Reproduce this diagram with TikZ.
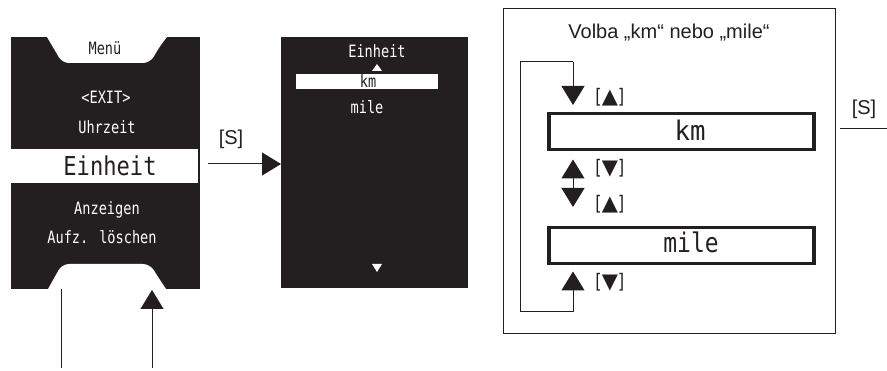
\documentclass[tikz,border=0pt]{standalone}
\usepackage{fontspec}
\setmainfont{Liberation Sans}
\newfontfamily\lcd[FakeStretch=0.8]{DejaVu Sans Mono}
\newfontfamily\lcdbig[FakeStretch=0.85]{DejaVu Sans Mono}
\newfontfamily\lcdkm[FakeStretch=0.95]{DejaVu Sans Mono}
\newfontfamily\lcdw{DejaVu Sans Mono}
\newfontfamily\sym{DejaVu Sans}
\usetikzlibrary{arrows.meta}
\definecolor{scr}{HTML}{231F20}
\tikzset{
  screen/.style={fill=scr, draw=none, anchor=north west, inner sep=0pt},
  wtxt/.style={text=white, inner sep=0pt, font=\lcd\fontsize{17}{17}\selectfont},
  conn/.style={line width=1pt, draw=scr},
  arr/.style={conn, -{Triangle[length=19pt, width=23pt]}},
  lbl/.style={inner sep=0pt, font=\fontsize{20}{20}\selectfont, text=scr},
  selbox/.style={draw=scr, line width=3.5pt, fill=white, inner sep=0pt, anchor=north west},
  keylbl/.style={inner sep=0pt, anchor=west, text=scr, font=\lcd\fontsize{20}{20}\selectfont},
}
\newcommand{\upt}{\kern-1pt{\sym\fontsize{21}{21}\selectfont▲}\kern-1pt}
\newcommand{\dnt}{\kern-1pt{\sym\fontsize{21}{21}\selectfont▼}\kern-1pt}
\begin{document}
\begin{tikzpicture}[x=1pt,y=-1pt]
\useasboundingbox (0,0) rectangle (887,371);
% ---------- left screen ----------
\node[screen, minimum width=189pt, minimum height=252pt] (menu) at (11,37) {};
\fill[white] (47,37) -- (57,54) [rounded corners=7pt] -- (62,63) -- (150,63) -- (160,46) [sharp corners] -- (167,37) -- cycle;
\node[inner sep=0pt, text=scr, font=\lcd\fontsize{17}{17}\selectfont] (menut) at (105,48) {Menü};
\node[wtxt] (exit) at (106,97) {<EXIT>};
\node[wtxt] (uhr) at (107,127) {Uhrzeit};
\fill[white] (11,149) rectangle (198,183);
\node[inner sep=0pt, text=scr, font=\lcdbig\fontsize{26}{26}\selectfont] (einh) at (110,166) {Einheit};
\node[wtxt] (anz) at (107,210) {Anzeigen};
\node[wtxt] (aufz) at (102,237) {Aufz. löschen};
\fill[white] (48,289) -- (57,273) [rounded corners=7pt] -- (62,264) -- (150,264) -- (158,277) [sharp corners] -- (166,289) -- cycle;
\coordinate (la) at (61,289);
\coordinate (lb) at (61,368);
\coordinate (ra) at (152,290);
\coordinate (rb) at (152,368);
\draw[conn] (la) -- (lb);
\draw[arr] (rb) -- (ra);
% ---------- [S] arrow ----------
\node[screen, minimum width=187pt, minimum height=251pt] (unit) at (281,37) {};
\coordinate (s0) at (208,164);
\draw[arr] (s0) -- (unit.west |- s0);
\node[lbl] (slbl) at (231,139) {[S]};
% ---------- middle screen ----------
\node[inner sep=0pt, text=white, font=\lcd\fontsize{17}{17}\selectfont] (ut) at (377,51) {Einheit};
\fill[white] (372,71) -- (382,71) -- (377,64) -- cycle;
\fill[white] (296,74) rectangle (438,89);
\node[inner sep=0pt, text=scr, font=\lcd\fontsize{17}{17}\selectfont] (ukm) at (368,81) {km};
\node[wtxt] (umile) at (367,107) {mile};
\fill[white] (372,264) -- (382,264) -- (377,272) -- cycle;
% ---------- right panel ----------
\node[draw=scr, line width=1pt, anchor=north west, inner sep=0pt, minimum width=332pt, minimum height=325pt] (panel) at (503,8) {};
\node[lbl] (title) at (669,33) {Volba „km“ nebo „mile“};
\node[selbox, minimum width=265pt, minimum height=36pt] (km) at (547,112) {};
\node[inner sep=0pt, text=scr, font=\lcdkm\fontsize{27}{27}\selectfont] at (690,130) {km};
\node[selbox, minimum width=265pt, minimum height=36pt] (mile) at (547,226) {};
\node[inner sep=0pt, text=scr, font=\lcdbig\fontsize{27}{27}\selectfont] at (691,242) {mile};
\coordinate (lt) at (573,62);
\coordinate (lbot) at (573,312);
\draw[conn] (lbot) -- (520,312) -- (520,62) -- (lt);
\draw[arr] (lt) -- ([yshift=7pt]km.north -| lt);
\draw[arr] (lbot) -- ([yshift=-6pt]mile.south -| lbot);
\draw[conn, {Triangle[length=19pt, width=23pt]}-{Triangle[length=19pt, width=23pt]}] ([yshift=-8pt]km.south -| lt) -- ([yshift=19pt]mile.north -| lt);
\node[keylbl] (k1) at (593,97) {[\upt]};
\node[keylbl] (k2) at (593,168) {[\dnt]};
\node[keylbl] (k3) at (593,204) {[\upt]};
\node[keylbl] (k4) at (593,282) {[\dnt]};
\node[lbl] (s2) at (864,109) {[S]};
\coordinate (sl0) at (840,129);
\coordinate (sl1) at (887,129);
\draw[conn] (sl0) -- (sl1);
\end{tikzpicture}
\end{document}
